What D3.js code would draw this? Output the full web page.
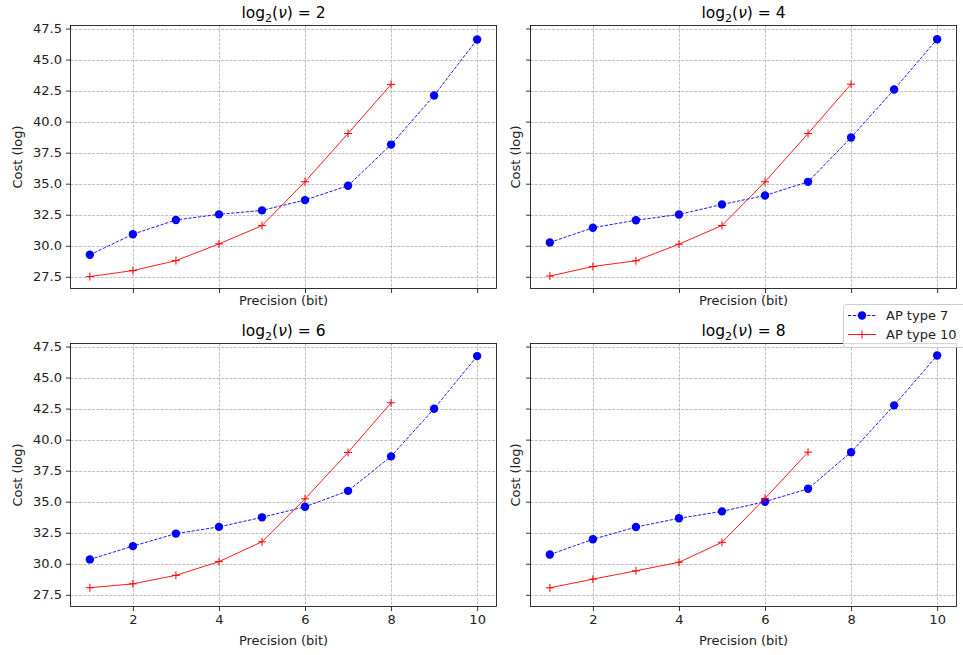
<!DOCTYPE html>
<html>
<head>
<meta charset="utf-8">
<script src="https://cdn.jsdelivr.net/npm/d3@7"></script>
<style>
  html, body { margin: 0; padding: 0; background: #fff; }
  svg { display: block; font-family: "DejaVu Sans", sans-serif; }
</style>
</head>
<body>
<svg id="chart" width="963" height="655"></svg>
<script>
// ---- data ----
const panelTitles = ["2", "4", "6", "8"];
const precisionType7 = [1, 2, 3, 4, 5, 6, 7, 8, 9, 10];
const type7_nu2 = [29.27, 30.93, 32.08, 32.53, 32.85, 33.68, 34.84, 38.15, 42.10, 46.62];
const type7_nu4 = [30.27, 31.45, 32.06, 32.52, 33.33, 34.05, 35.15, 38.72, 42.59, 46.64];
const type7_nu6 = [30.35, 31.42, 32.43, 32.97, 33.74, 34.59, 35.87, 38.65, 42.49, 46.73];
const type7_nu8 = [30.74, 31.97, 32.96, 33.66, 34.22, 35.00, 36.04, 38.99, 42.76, 46.78];
const type10_nu2 = [27.52, 28.00, 28.80, 30.15, 31.62, 35.16, 39.04, 43.00];
const type10_nu4 = [27.56, 28.33, 28.79, 30.13, 31.63, 35.15, 39.04, 43.02];
const type10_nu6 = [28.07, 28.38, 29.07, 30.17, 31.77, 35.23, 38.97, 42.97];
const type10_nu8 = [28.06, 28.76, 29.43, 30.12, 31.73, 35.26, 38.99];
const xTicks = [2, 4, 6, 8, 10];
const yTicks = [27.5, 30.0, 32.5, 35.0, 37.5, 40.0, 42.5, 45.0, 47.5];
const seriesNames = ["AP type 7", "AP type 10"];

const type7All = [type7_nu2, type7_nu4, type7_nu6, type7_nu8];
const type10All = [type10_nu2, type10_nu4, type10_nu6, type10_nu8];

// ---- layout ----
const svg = d3.select("#chart");
const panels = [
  { x0: 70.5, x1: 496.5, y0: 25.5, y1: 288.5, col: 0, row: 0 },
  { x0: 530.5, x1: 956.5, y0: 25.5, y1: 288.5, col: 1, row: 0 },
  { x0: 70.5, x1: 496.5, y0: 343.5, y1: 606.5, col: 0, row: 1 },
  { x0: 530.5, x1: 956.5, y0: 343.5, y1: 606.5, col: 1, row: 1 }
];

// shared domains (matplotlib 5% margins)
const allX = precisionType7;
const xMin = d3.min(allX), xMax = d3.max(allX);
const xPad = (xMax - xMin) * 0.05;
const allY = type7All.flat().concat(type10All.flat());
const yMin = d3.min(allY), yMax = d3.max(allY);
const yPad = (yMax - yMin) * 0.05;

const fontTick = 13;

panels.forEach((p, i) => {
  const x = d3.scaleLinear().domain([xMin - xPad, xMax + xPad]).range([p.x0, p.x1]);
  const y = d3.scaleLinear().domain([yMin - yPad, yMax + yPad]).range([p.y1, p.y0]);
  const g = svg.append("g");

  // grid
  g.selectAll(".gx").data(xTicks).enter().append("line")
    .attr("x1", d => Math.round(x(d)) + 0.5).attr("x2", d => Math.round(x(d)) + 0.5)
    .attr("y1", p.y0).attr("y2", p.y1)
    .attr("stroke", "#b0b0b0").attr("stroke-width", 0.8).attr("stroke-dasharray", "3,1.3");
  g.selectAll(".gy").data(yTicks).enter().append("line")
    .attr("y1", d => Math.round(y(d)) + 0.5).attr("y2", d => Math.round(y(d)) + 0.5)
    .attr("x1", p.x0).attr("x2", p.x1)
    .attr("stroke", "#b0b0b0").attr("stroke-width", 0.8).attr("stroke-dasharray", "3,1.3");

  // axes
  const xAxis = d3.axisBottom(x).tickValues(xTicks).tickSizeInner(4.5).tickSizeOuter(0).tickPadding(4)
    .tickFormat(p.row === 1 ? d3.format("d") : () => "");
  const yAxis = d3.axisLeft(y).tickValues(yTicks).tickSizeInner(4.5).tickSizeOuter(0).tickPadding(4)
    .tickFormat(p.col === 0 ? d3.format(".1f") : () => "");
  const gx = g.append("g").attr("transform", `translate(0,${p.y1})`).call(xAxis);
  const gy = g.append("g").attr("transform", `translate(${p.x0},0)`).call(yAxis);
  [gx, gy].forEach(a => {
    a.select(".domain").remove();
    a.selectAll("line").attr("stroke", "#000").attr("stroke-width", 0.8);
    a.selectAll("text").attr("fill", "#222").style("font-size", fontTick + "px")
      .style("font-family", "DejaVu Sans, sans-serif");
  });

  // frame
  g.append("rect").attr("x", p.x0).attr("y", p.y0)
    .attr("width", p.x1 - p.x0).attr("height", p.y1 - p.y0)
    .attr("fill", "none").attr("stroke", "#000").attr("stroke-width", 0.8);

  // series 7
  const d7 = precisionType7.map((px, k) => [px, type7All[i][k]]);
  const d10 = type10All[i].map((v, k) => [precisionType7[k], v]);
  const line = d3.line().x(d => x(d[0])).y(d => y(d[1]));
  g.append("path").datum(d7).attr("d", line).attr("fill", "none")
    .attr("stroke", "blue").attr("stroke-width", 0.9).attr("stroke-dasharray", "3.3,1.5");
  g.selectAll(".m7").data(d7).enter().append("circle")
    .attr("cx", d => x(d[0])).attr("cy", d => y(d[1])).attr("r", 4.2).attr("fill", "blue");

  // series 10
  g.append("path").datum(d10).attr("d", line).attr("fill", "none")
    .attr("stroke", "red").attr("stroke-width", 0.9);
  const plus = g.selectAll(".m10").data(d10).enter().append("g")
    .attr("transform", d => `translate(${x(d[0])},${y(d[1])})`);
  plus.append("line").attr("x1", -4).attr("x2", 4).attr("stroke", "red").attr("stroke-width", 1);
  plus.append("line").attr("y1", -4).attr("y2", 4).attr("stroke", "red").attr("stroke-width", 1);

  // title
  const cx = (p.x0 + p.x1) / 2;
  const t = g.append("text").attr("x", cx).attr("y", p.y0 - 8)
    .attr("text-anchor", "middle").style("font-size", "15.5px").attr("fill", "#000");
  t.append("tspan").text("log");
  t.append("tspan").attr("dy", 4).style("font-size", "11px").text("2");
  t.append("tspan").attr("dy", -4).text("(");
  t.append("tspan").style("font-style", "italic").text("ν");
  t.append("tspan").text(") = " + panelTitles[i]);

  // x label
  g.append("text").attr("x", cx).attr("y", p.y1 + (p.row === 1 ? 38 : 16))
    .attr("text-anchor", "middle").style("font-size", "13px").attr("fill", "#222")
    .text("Precision (bit)");
  // y label
  const lx = p.col === 0 ? 22 : 520;
  g.append("text").attr("transform", `translate(${lx},${(p.y0 + p.y1) / 2}) rotate(-90)`)
    .attr("text-anchor", "middle").style("font-size", "13px").attr("fill", "#222")
    .text("Cost (log)");
});

// legend
const lg = svg.append("g");
lg.append("rect").attr("x", 843.5).attr("y", 304.5).attr("width", 130).attr("height", 43)
  .attr("rx", 3).attr("fill", "#fff").attr("fill-opacity", 0.8)
  .attr("stroke", "#ccc").attr("stroke-width", 1);
const rows = [
  { name: seriesNames[0], y: 315.5, color: "blue", dash: "3.3,1.5", marker: "circle" },
  { name: seriesNames[1], y: 334.5, color: "red", dash: null, marker: "plus" }
];
rows.forEach(r => {
  lg.append("line").attr("x1", 848).attr("x2", 876).attr("y1", r.y).attr("y2", r.y)
    .attr("stroke", r.color).attr("stroke-width", 0.9).attr("stroke-dasharray", r.dash);
  if (r.marker === "circle") {
    lg.append("circle").attr("cx", 862).attr("cy", r.y).attr("r", 4.2).attr("fill", r.color);
  } else {
    lg.append("line").attr("x1", 858).attr("x2", 866).attr("y1", r.y).attr("y2", r.y).attr("stroke", r.color);
    lg.append("line").attr("x1", 862).attr("x2", 862).attr("y1", r.y - 4).attr("y2", r.y + 4).attr("stroke", r.color);
  }
  lg.append("text").attr("x", 886).attr("y", r.y + 4.5).style("font-size", "13px")
    .attr("fill", "#222").text(r.name);
});
</script>
</body>
</html>
